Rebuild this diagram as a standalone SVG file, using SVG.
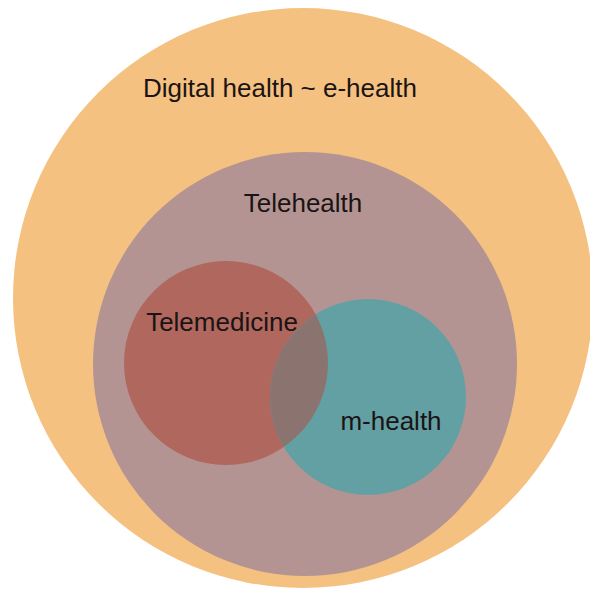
<svg xmlns="http://www.w3.org/2000/svg" width="590" height="589" viewBox="0 0 590 589">
<style>
text{font-family:"Liberation Sans",Arial,sans-serif;font-size:26px;fill:#1a1414;text-anchor:middle}
</style>
<defs>
<clipPath id="tmClip"><circle cx="226" cy="363" r="102"/></clipPath>
</defs>
<rect width="590" height="589" fill="#ffffff"/>
<g id="digital-health">
<circle cx="303" cy="298" r="290" fill="#F5C180"/>
<text x="280" y="97" font-size="27">Digital health ~ e-health</text>
</g>
<g id="telehealth">
<circle cx="305" cy="364" r="212" fill="#B39492"/>
<text x="303" y="212">Telehealth</text>
</g>
<g id="telemedicine">
<circle cx="226" cy="363" r="102" fill="#B0675E"/>
</g>
<g id="m-health">
<circle cx="368" cy="397" r="98" fill="#63A0A4"/>
<circle cx="368" cy="397" r="98" fill="#8B7470" clip-path="url(#tmClip)"/>
<text x="391" y="430">m-health</text>
</g>
<g id="labels">
<text x="222" y="331">Telemedicine</text>
</g>
<g id="connectors"/>
</svg>
